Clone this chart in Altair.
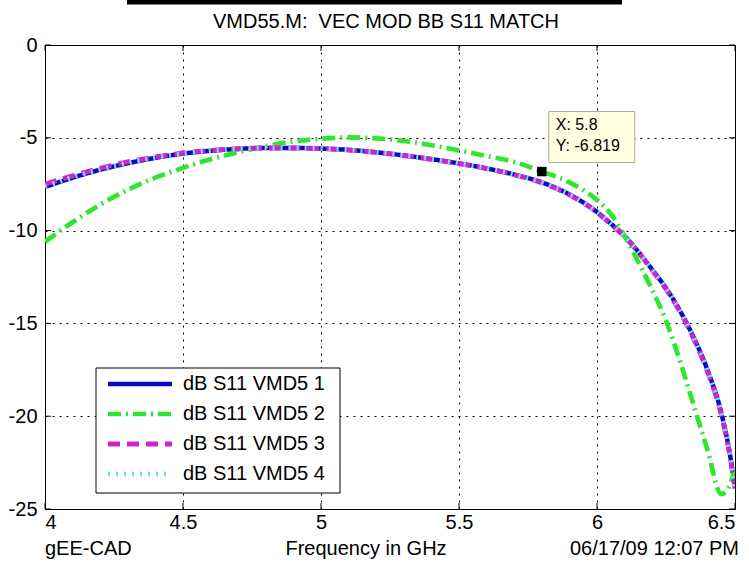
import altair as alt
import pandas as pd

# Frequency grid (GHz) and S11 magnitude (dB) for each VMD5 variant
freq = [4.0, 4.1, 4.2, 4.3, 4.4, 4.5, 4.6, 4.7, 4.8, 4.9, 5.0, 5.1, 5.2, 5.3,
        5.4, 5.5, 5.6, 5.7, 5.8, 5.9, 6.0, 6.05, 6.1, 6.15, 6.2, 6.25, 6.3,
        6.35, 6.4, 6.45, 6.475, 6.5]

s11_vmd5_1 = [-7.65, -7.15, -6.72, -6.37, -6.08, -5.85, -5.70, -5.60, -5.55,
              -5.55, -5.58, -5.65, -5.78, -5.95, -6.15, -6.38, -6.65, -6.98,
              -7.40, -8.05, -9.00, -9.62, -10.30, -11.15, -12.10, -13.10,
              -14.30, -15.75, -17.50, -19.80, -21.50, -23.80]

s11_vmd5_2 = [-10.60, -9.55, -8.60, -7.80, -7.15, -6.62, -6.15, -5.78, -5.45,
              -5.20, -5.05, -4.98, -5.03, -5.17, -5.40, -5.68, -5.98, -6.30,
              -6.819, -7.40, -8.35, -9.10, -10.30, -11.70, -13.20, -14.85,
              -17.00, -19.40, -21.80, -24.20, -23.90, -22.80]

s11_vmd5_3 = [-7.50, -7.05, -6.64, -6.30, -6.03, -5.82, -5.68, -5.59, -5.55,
              -5.55, -5.58, -5.66, -5.79, -5.96, -6.16, -6.39, -6.66, -6.99,
              -7.42, -8.07, -9.02, -9.65, -10.33, -11.18, -12.14, -13.15,
              -14.36, -15.82, -17.58, -19.90, -21.60, -23.90]

s11_vmd5_4 = [-7.62, -7.13, -6.70, -6.35, -6.07, -5.84, -5.69, -5.60, -5.55,
              -5.55, -5.58, -5.65, -5.78, -5.95, -6.15, -6.38, -6.65, -6.98,
              -7.40, -8.05, -9.00, -9.62, -10.30, -11.15, -12.10, -13.10,
              -14.30, -15.75, -17.50, -19.80, -21.50, -23.80]

series_names = ["dB S11 VMD5 1", "dB S11 VMD5 2", "dB S11 VMD5 3", "dB S11 VMD5 4"]
series_values = [s11_vmd5_1, s11_vmd5_2, s11_vmd5_3, s11_vmd5_4]
series_colors = ["#0a0ac4", "#2ee62e", "#d023d0", "#7fdde4"]
series_dash = [[1, 0], [13, 5, 2, 5], [12, 7], [2, 6]]
series_width = [4.5, 5, 5, 2.5]

x_ticks = [4, 4.5, 5, 5.5, 6, 6.5]
y_ticks = [0, -5, -10, -15, -20, -25]

# Data cursor readout
tip_x = 5.8
tip_y = -6.819

title_text = "VMD55.M:\u00a0 VEC MOD BB S11 MATCH"
footer_left = "gEE-CAD"
footer_mid = "Frequency in GHz"
footer_right = "06/17/09 12:07 PM"

FONT = "Liberation Sans"
W, H = 690, 464

rows = []
for name, vals in zip(series_names, series_values):
    for f, v in zip(freq, vals):
        rows.append({"freq": f, "s11": v, "series": name})
df = pd.DataFrame(rows)
names_df = pd.DataFrame({"series": series_names})

x_scale = alt.Scale(domain=[4, 6.5], nice=False, zero=False)
y_scale = alt.Scale(domain=[-25, 0], nice=False, zero=False)
color_scale = alt.Scale(domain=series_names, range=series_colors)
dash_scale = alt.Scale(domain=series_names, range=series_dash)
width_scale = alt.Scale(domain=series_names, range=series_width)

axis_style = dict(labelExpr="datum.value + ''", title=None, grid=True,
                  gridDash=[2, 5], gridColor="black", gridOpacity=1, gridWidth=1,
                  tickSize=0, domain=False, labelFontSize=20, labelFont=FONT,
                  labelColor="black")
x_axis = alt.Axis(values=x_ticks, labelPadding=3, **axis_style)
y_axis = alt.Axis(values=y_ticks, labelPadding=8, **axis_style)


def yq(field):
    """Quantitative y on the shared dB scale, without a second axis."""
    return alt.Y(field, scale=y_scale, axis=None)


lines = alt.Chart(df).mark_line(interpolate="monotone", clip=True).encode(
    x=alt.X("freq:Q", scale=x_scale, axis=x_axis),
    y=alt.Y("s11:Q", scale=y_scale, axis=y_axis),
    color=alt.Color("series:N", scale=color_scale, legend=None),
    strokeDash=alt.StrokeDash("series:N", scale=dash_scale, legend=None),
    strokeWidth=alt.StrokeWidth("series:N", scale=width_scale, legend=None),
    order=alt.Order("freq:Q"),
)

# Inward tick marks on all four sides of the frame
ytick_df = pd.DataFrame({"v": y_ticks})
xtick_df = pd.DataFrame({"v": x_ticks})
tick_style = dict(color="black", strokeWidth=1)
ticks_left = alt.Chart(ytick_df).mark_rule(**tick_style).encode(
    y=yq("v:Q"), x=alt.value(0), x2=alt.value(6))
ticks_right = alt.Chart(ytick_df).mark_rule(**tick_style).encode(
    y=yq("v:Q"), x=alt.value(W - 6), x2=alt.value(W))
ticks_bottom = alt.Chart(xtick_df).mark_rule(**tick_style).encode(
    x=alt.X("v:Q", scale=x_scale), y=alt.value(H - 6), y2=alt.value(H))
ticks_top = alt.Chart(xtick_df).mark_rule(**tick_style).encode(
    x=alt.X("v:Q", scale=x_scale), y=alt.value(0), y2=alt.value(6))

# Legend box drawn in the lower left of the axes
one = pd.DataFrame({"k": [0]})
legend_box = alt.Chart(one).mark_rect(fill="white", stroke="black", strokeWidth=1).encode(
    x=alt.value(51), x2=alt.value(295), y=alt.value(323), y2=alt.value(448))
row_scale = alt.Scale(type="point", domain=series_names, range=[339, 429], padding=0)
legend_lines = alt.Chart(names_df).mark_rule().encode(
    y=alt.Y("series:N", scale=row_scale, axis=None),
    x=alt.value(63), x2=alt.value(127),
    color=alt.Color("series:N", scale=color_scale, legend=None),
    strokeDash=alt.StrokeDash("series:N", scale=dash_scale, legend=None),
    strokeWidth=alt.StrokeWidth("series:N", scale=width_scale, legend=None),
)
legend_labels = alt.Chart(names_df).mark_text(
    align="left", baseline="middle", fontSize=20, font=FONT, color="black",
).encode(y=alt.Y("series:N", scale=row_scale, axis=None),
         x=alt.value(138), text="series:N")

# Data tip: box, readout text and marker at the cursor point
tip_df = pd.DataFrame({"x": [tip_x], "y": [tip_y],
                       "lx": [f"X: {tip_x}"], "ly": [f"Y: {tip_y}"]})
tip_box = alt.Chart(tip_df).mark_rect(
    fill="#ffffe1", stroke="#a8a898", strokeWidth=1,
    xOffset=7, x2Offset=93, yOffset=-60, y2Offset=-9,
).encode(x=alt.X("x:Q", scale=x_scale), x2="x:Q", y=yq("y:Q"), y2="y:Q")
tip_text_x = alt.Chart(tip_df).mark_text(
    align="left", baseline="middle", dx=14, dy=-47, fontSize=16, font=FONT, color="black",
).encode(x=alt.X("x:Q", scale=x_scale), y=yq("y:Q"), text="lx:N")
tip_text_y = alt.Chart(tip_df).mark_text(
    align="left", baseline="middle", dx=14, dy=-26, fontSize=16, font=FONT, color="black",
).encode(x=alt.X("x:Q", scale=x_scale), y=yq("y:Q"), text="ly:N")
tip_marker = alt.Chart(tip_df).mark_square(size=90, color="black", opacity=1).encode(
    x=alt.X("x:Q", scale=x_scale), y=yq("y:Q"))

# Title, footer annotations and the heavy rule along the top edge
text_style = dict(baseline="middle", fontSize=20, font=FONT, color="black")
top_bar = alt.Chart(one).mark_rule(color="black", strokeWidth=5).encode(
    x=alt.value(82), x2=alt.value(577), y=alt.value(-43))
title_mark = alt.Chart(one).mark_text(align="center", **text_style).encode(
    x=alt.value(341), y=alt.value(-23), text=alt.value(title_text))
foot_l = alt.Chart(one).mark_text(align="left", **text_style).encode(
    x=alt.value(0), y=alt.value(H + 40), text=alt.value(footer_left))
foot_m = alt.Chart(one).mark_text(align="center", **text_style).encode(
    x=alt.value(321), y=alt.value(H + 40), text=alt.value(footer_mid))
foot_r = alt.Chart(one).mark_text(align="right", **text_style).encode(
    x=alt.value(W + 4), y=alt.value(H + 40), text=alt.value(footer_right))

chart = alt.layer(
    lines, ticks_left, ticks_right, ticks_bottom, ticks_top,
    legend_box, legend_lines, legend_labels,
    tip_box, tip_text_x, tip_text_y, tip_marker,
    top_bar, title_mark, foot_l, foot_m, foot_r,
).resolve_scale(
    y="independent"
).properties(
    width=W, height=H,
    autosize=alt.AutoSizeParams(type="none"),
    padding={"left": 45, "top": 45, "right": 14, "bottom": 55},
    background="white",
).configure_view(stroke="black", strokeWidth=1)

chart.save("out.html", embed_options={"renderer": "svg", "actions": False})
